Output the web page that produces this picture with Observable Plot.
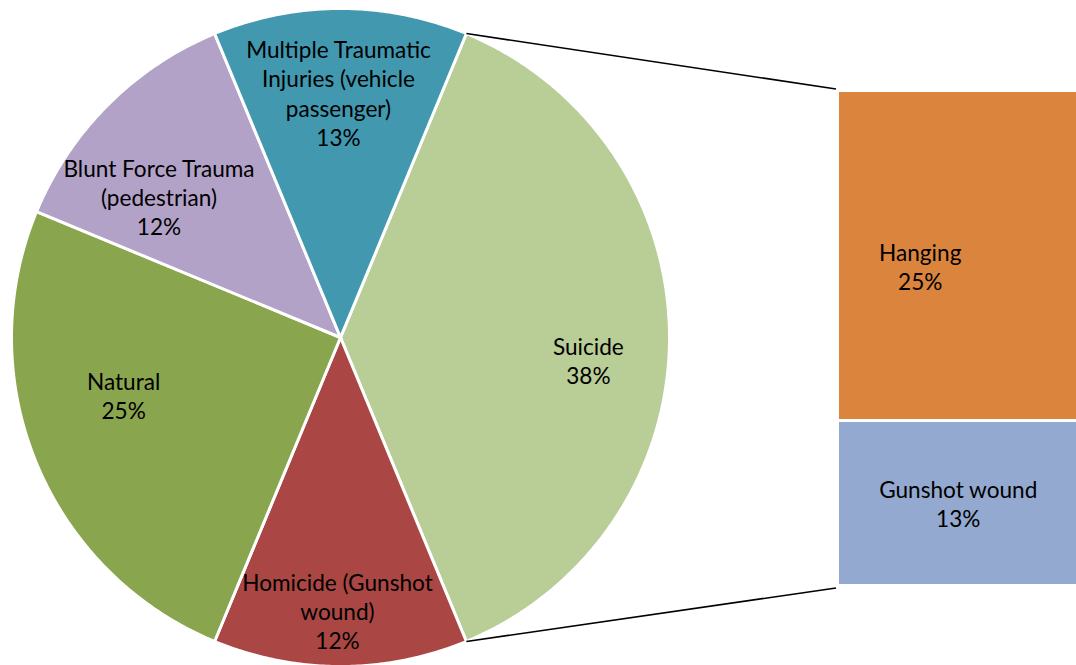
<!DOCTYPE html>
<html>
<head>
<meta charset="utf-8">
<script src="https://cdn.jsdelivr.net/npm/d3@7"></script>
<script src="https://cdn.jsdelivr.net/npm/@observablehq/plot@0.6"></script>
<style>
  html, body { margin: 0; padding: 0; background: #fff; }
  #chart { width: 1076px; height: 665px; overflow: hidden; }
</style>
</head>
<body>
<div id="chart"></div>
<script>
// ---------- DATA ----------
const causes = ["Suicide", "Homicide (Gunshot wound)", "Natural", "Blunt Force Trauma (pedestrian)", "Multiple Traumatic Injuries (vehicle passenger)"];
const causeLabels = ["Suicide", "Homicide (Gunshot\nwound)", "Natural", "Blunt Force Trauma\n(pedestrian)", "Multiple Traumatic\nInjuries (vehicle\npassenger)"];
const causeShares = [37.5, 12.5, 25, 12.5, 12.5];
const causePctLabels = ["38%", "12%", "25%", "12%", "13%"];
const causeColors = ["#B9CD96", "#AA4643", "#89A54E", "#B3A2C7", "#4198AF"];

const suicideMethods = ["Hanging", "Gunshot wound"];
const suicideShares = [25, 12.5];
const suicidePctLabels = ["25%", "13%"];
const suicideColors = ["#DB843D", "#93A9CF"];

// ---------- LAYOUT ----------
const W = 1076, H = 665;
const cx = 340, cy = 337, R = 329;
const barLeft = 837.5, barRight = 1080, barTop = 90.5, barBottom = 585.5;
const labelRadius = 0.72;
const pieLabelNudge = [[11, 23], [-3, 36], [2, -33], [-14, 27], [-2, -8]];
const barLabelNudge = [[-37, 10], [1, 0]];
const FONT = "Lato, 'Open Sans', sans-serif";
const FS = 22.6;

// ---------- DERIVED GEOMETRY ----------
const rad = d => d * Math.PI / 180;
const px = a => cx + R * Math.sin(rad(a));
const py = a => cy - R * Math.cos(rad(a));
const total = d3.sum(causeShares);
const startDeg = 90 - (causeShares[0] / total) * 360 / 2;

const slicePoints = [];
const pieLabels = [];
let cum = 0;
causes.forEach((name, i) => {
  const a0 = startDeg + cum / total * 360;
  const a1 = a0 + causeShares[i] / total * 360;
  cum += causeShares[i];
  slicePoints.push({name, color: causeColors[i], x: cx, y: cy});
  const n = Math.ceil((a1 - a0) * 2);
  for (let k = 0; k <= n; k++) {
    const a = a0 + (a1 - a0) * k / n;
    slicePoints.push({name, color: causeColors[i], x: px(a), y: py(a)});
  }
  const am = (a0 + a1) / 2;
  pieLabels.push({
    text: causeLabels[i] + "\n" + causePctLabels[i],
    x: cx + labelRadius * R * Math.sin(rad(am)) + pieLabelNudge[i][0],
    y: cy - labelRadius * R * Math.cos(rad(am)) + pieLabelNudge[i][1]
  });
});

const subTotal = d3.sum(suicideShares);
const unit = (barBottom - barTop) / subTotal;
const barRows = [];
let c2 = 0;
suicideMethods.forEach((name, i) => {
  const y1 = barTop + c2 * unit;
  c2 += suicideShares[i];
  const y2 = barTop + c2 * unit;
  barRows.push({
    name, color: suicideColors[i], y1, y2,
    lx: (barLeft + 1076) / 2 + barLabelNudge[i][0],
    ly: (y1 + y2) / 2 + barLabelNudge[i][1],
    text: name + "\n" + suicidePctLabels[i]
  });
});

const splitStart = startDeg, splitEnd = startDeg + causeShares[0] / total * 360;
const connectors = [
  {x1: px(splitStart), y1: py(splitStart), x2: barLeft - 2, y2: barTop - 2},
  {x1: px(splitEnd), y1: py(splitEnd), x2: barLeft - 2, y2: barBottom + 2}
];

// ---------- PLOT ----------
const chart = Plot.plot({
  width: W,
  height: H,
  margin: 0,
  style: {fontFamily: FONT, background: "#fff"},
  x: {domain: [0, W], range: [0, W], axis: null},
  y: {domain: [0, H], range: [0, H], axis: null},
  color: {type: "identity"},
  marks: [
    Plot.line(slicePoints, {
      x: "x", y: "y", z: "name", fill: "color",
      stroke: "white", strokeWidth: 3, curve: "linear-closed"
    }),
    Plot.link(connectors, {x1: "x1", y1: "y1", x2: "x2", y2: "y2", stroke: "black", strokeWidth: 1.6}),
    Plot.rect(barRows, {
      x1: () => barLeft, x2: () => barRight, y1: "y1", y2: "y2",
      fill: "color", stroke: "white", strokeWidth: 3
    }),
    Plot.text(pieLabels, {
      x: "x", y: "y", text: "text", fontSize: FS, lineHeight: 1.29,
      fontFamily: FONT, fill: "black"
    }),
    Plot.text(barRows, {
      x: "lx", y: "ly", text: "text", fontSize: FS, lineHeight: 1.29,
      fontFamily: FONT, fill: "black"
    })
  ]
});
document.getElementById("chart").appendChild(chart);
</script>
</body>
</html>
